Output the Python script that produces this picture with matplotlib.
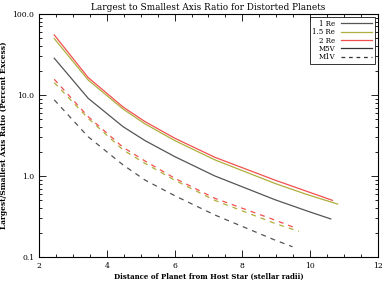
import numpy as np
import matplotlib
matplotlib.use('Agg')
from matplotlib import pyplot as plt
from matplotlib.ticker import MultipleLocator, LogLocator, NullFormatter, FixedFormatter, FixedLocator

#distances (stellar radii)
x_m5v_1re = [2.45, 3.45, 4.48, 5.13, 6.01, 7.19, 8.96, 9.91, 10.61]
x_m5v_15re = [2.45, 3.45, 4.48, 5.13, 6.01, 7.19, 8.96, 9.91, 10.81]
x_m5v_2re = [2.45, 3.45, 4.48, 5.13, 6.01, 7.19, 8.96, 9.91, 10.66]
x_m1v_1re = [2.45, 3.45, 4.48, 5.13, 6.01, 7.19, 8.96, 9.48]
x_m1v_15re = [2.45, 3.45, 4.48, 5.13, 6.01, 7.19, 8.96, 9.67]
x_m1v_2re = [2.45, 3.45, 4.48, 5.13, 6.01, 7.19, 8.96, 9.55]

#axis ratio (percent excess)
m5v_1re = [28.4, 9.1, 4.06, 2.73, 1.73, 1.0, 0.51, 0.37, 0.295]
m5v_15re = [49.6, 15.3, 6.7, 4.39, 2.73, 1.58, 0.81, 0.59, 0.45]
m5v_2re = [55.0, 16.4, 7.1, 4.68, 2.92, 1.70, 0.89, 0.645, 0.50]
m1v_1re = [8.7, 3.05, 1.37, 0.89, 0.57, 0.33, 0.162, 0.134]
m1v_15re = [14.2, 5.15, 2.1, 1.43, 0.885, 0.50, 0.26, 0.207]
m1v_2re = [15.6, 5.4, 2.26, 1.53, 0.935, 0.53, 0.286, 0.23]

c1 = '#555555'
c15 = '#b0ae3c'
c2 = '#f25050'

plt.rcParams['font.family'] = 'DejaVu Serif'

fig = plt.figure(figsize=(3.9, 2.84), dpi=100)
ax = fig.add_axes([0.1, 0.095, 0.869, 0.856])

ax.plot(x_m5v_1re, m5v_1re, color=c1, lw=0.9)
ax.plot(x_m5v_15re, m5v_15re, color=c15, lw=0.9)
ax.plot(x_m5v_2re, m5v_2re, color=c2, lw=0.9)
ax.plot(x_m1v_1re, m1v_1re, color=c1, lw=0.9, ls=(0, (4, 4)))
ax.plot(x_m1v_15re, m1v_15re, color=c15, lw=0.9, ls=(0, (4, 4)))
ax.plot(x_m1v_2re, m1v_2re, color=c2, lw=0.9, ls=(0, (4, 4)))

#legend entries only
h1, = ax.plot([], [], color=c1, lw=0.9, label='1 Re')
h2, = ax.plot([], [], color=c15, lw=0.9, label='1.5 Re')
h3, = ax.plot([], [], color=c2, lw=0.9, label='2 Re')
h4, = ax.plot([], [], color='#333333', lw=0.9, label='M5V')
h5, = ax.plot([], [], color='#333333', lw=0.9, ls=(0, (3, 3)), label='M1V')
leg = ax.legend(handles=[h1, h2, h3, h4, h5], loc='upper right', fontsize=5,
                markerfirst=False, frameon=True, fancybox=False, edgecolor='black',
                handlelength=4.5, handletextpad=0.8, labelspacing=0.05,
                borderpad=0.4, borderaxespad=0.45)
leg.get_frame().set_linewidth(0.7)
for t in leg.get_texts():
    t.set_ha('right')

ax.set_yscale('log')
ax.set_xlim(2, 12)
ax.set_ylim(0.1, 100)
ax.xaxis.set_major_locator(MultipleLocator(2))
ax.xaxis.set_minor_locator(MultipleLocator(0.5))
ax.yaxis.set_major_locator(FixedLocator([0.1, 1, 10, 100]))
ax.yaxis.set_major_formatter(FixedFormatter(['0.1', '1.0', '10.0', '100.0']))
ax.yaxis.set_minor_locator(LogLocator(base=10, subs=np.arange(2, 10)))
ax.yaxis.set_minor_formatter(NullFormatter())

ax.tick_params(which='both', direction='in', top=True, right=True, labelsize=5.5, width=0.6)
ax.tick_params(which='major', length=5)
ax.tick_params(which='minor', length=2.5)
for s in ax.spines.values():
    s.set_linewidth(0.8)

ax.set_title('Largest to Smallest Axis Ratio for Distorted Planets', fontsize=6.4, pad=3)
ax.set_xlabel('Distance of Planet from Host Star (stellar radii)', fontsize=5.0, fontweight='bold', labelpad=2)
ax.set_ylabel('Largest/Smallest Axis Ratio (Percent Excess)', fontsize=5.4, fontweight='bold', labelpad=3)

fig.savefig('out.png', dpi=100)
